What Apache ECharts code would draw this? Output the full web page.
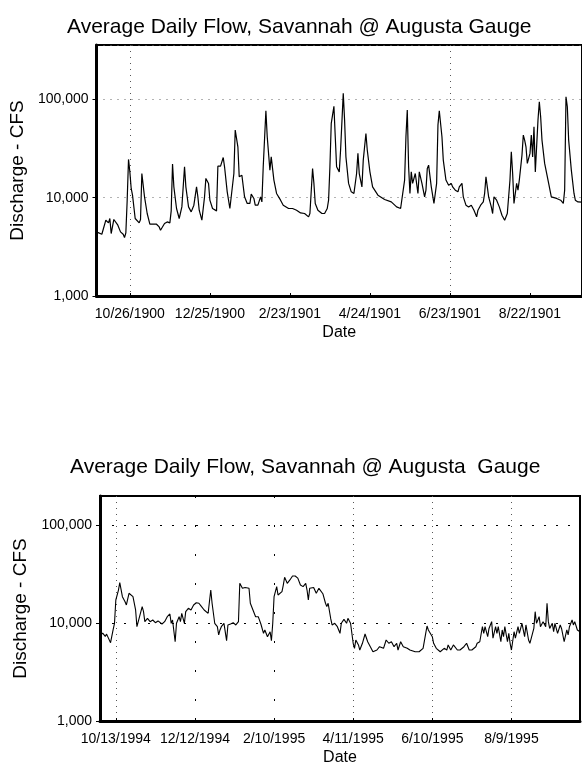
<!DOCTYPE html>
<html>
<head>
<meta charset="utf-8">
<script src="https://cdn.jsdelivr.net/npm/echarts@6/dist/echarts.min.js"></script>
<style>
html, body { margin: 0; padding: 0; background: #fff; }
#chart { width: 582px; height: 771px; }
</style>
</head>
<body>
<div id="chart"></div>
<script>
// water year 1900-1901 (top) and 1994-1995 (bottom), daily flow at Augusta
var title1901 = 'Average Daily Flow, Savannah @ Augusta Gauge';
var title1995 = 'Average Daily Flow, Savannah @ Augusta  Gauge';

// day index from Oct 1 and discharge (cfs) at the turning points of the trace
var flow1901Day = [0, 4, 7, 9, 10, 11, 13, 16, 18, 20, 21, 22, 23, 24, 25, 26, 27, 29, 32, 33, 34, 36, 38, 40, 45, 47, 48, 51, 53, 55,
    56, 57, 58, 60, 62, 64, 66, 67, 69, 71, 73, 75, 76, 77, 79, 81, 82, 84, 85, 87, 90, 91, 93, 95, 96, 98, 100, 101, 103, 104,
    106, 107, 109, 111, 113, 115, 116, 118, 119, 121, 123, 124, 125, 127, 128, 130, 131, 133, 135, 138, 140, 144, 147, 150, 153, 156, 159, 160, 162, 163,
    164, 166, 169, 171, 173, 174, 175, 176, 178, 179, 180, 182, 183, 185, 186, 187, 189, 191, 193, 195, 196, 197, 199, 200, 202, 203, 205, 207, 211, 216,
    221, 225, 228, 229, 231, 232, 233, 234, 235, 236, 237, 239, 241, 242, 244, 246, 247, 248, 249, 251, 253, 255, 256, 257, 259, 260, 262, 264, 266, 267,
    269, 271, 272, 274, 275, 277, 279, 281, 283, 285, 286, 288, 290, 291, 292, 293, 294, 296, 297, 298, 300, 302, 304, 306, 307, 308, 310, 311, 312, 313,
    315, 316, 317, 319, 320, 321, 322, 323, 325, 326, 327, 328, 329, 331, 332, 333, 334, 336, 339, 341, 345, 348, 350, 351, 352, 353, 354, 356, 358, 359,
    361, 364];
var flow1901Cfs = [4490, 4250, 5900, 5540, 6140, 4320, 6000, 5250, 4490, 4250, 3930, 4380, 9430, 24500, 18300, 12400, 10600, 6140, 5540, 6000, 17600, 10200, 6900, 5370, 5370, 5040, 4670, 5460, 5670, 5540,
    7340, 22000, 12880, 7760, 6140, 8060, 20600, 12880, 8060, 7170, 8390, 12880, 10200, 7460, 5900, 10200, 15700, 13960, 9430, 7760, 7340, 20900, 20900, 25600, 20600, 11460, 7760, 8060, 17600, 48700,
    32900, 16300, 16900, 10200, 8730, 8730, 10860, 9820, 8390, 8390, 10200, 9060, 20600, 76500, 41600, 19060, 26000, 15100, 11040, 9430, 8390, 7760, 7760, 7460, 7000, 6900, 6380, 6900, 19800, 13960,
    8730, 7460, 6900, 6900, 7760, 9430, 20600, 57000, 85000, 41600, 20600, 18300, 30500, 115000, 61500, 26000, 13960, 11460, 11040, 17600, 28200, 17600, 12880, 24100, 45000, 30500, 18300, 12880, 10600, 9590,
    9060, 8060, 7760, 7460, 15100, 41600, 77800, 20600, 11040, 18300, 13960, 17600, 11040, 18300, 13960, 10200, 11920, 19800, 21400, 12880, 8730, 13960, 54700, 76500, 41600, 24100, 15100, 13400, 13960, 12880,
    11920, 11460, 12880, 13960, 10200, 8390, 8060, 8390, 7460, 6380, 7460, 8390, 9060, 11040, 16300, 12880, 10200, 8060, 6900, 10200, 9430, 8060, 6630, 5900, 5670, 6900, 15100, 29300, 17600, 8730,
    13960, 11920, 15100, 27100, 43300, 38500, 32900, 22300, 28200, 43300, 26000, 52600, 18300, 61500, 94600, 66500, 38500, 22300, 13960, 10200, 9820, 9430, 8730, 11920, 106000, 84100, 38500, 19060, 11040, 9430,
    9060, 9000];

var flow1995Day = [0, 2, 4, 5, 8, 10, 11, 12, 14, 15, 17, 19, 20, 22, 23, 25, 27, 28, 30, 32, 33, 34, 36, 38, 40, 42, 44, 47, 49, 51,
    53, 54, 55, 57, 58, 60, 61, 62, 64, 65, 67, 69, 71, 73, 75, 77, 79, 80, 82, 84, 85, 87, 89, 90, 91, 92, 94, 96, 97, 99,
    101, 103, 105, 106, 108, 110, 113, 114, 116, 118, 120, 122, 124, 125, 127, 129, 130, 131, 132, 134, 135, 136, 138, 139, 140, 142, 144, 146, 148, 150,
    152, 154, 156, 157, 158, 159, 162, 164, 166, 167, 169, 171, 172, 173, 175, 176, 178, 180, 182, 183, 185, 187, 188, 190, 192, 193, 194, 196, 197, 199,
    201, 203, 205, 207, 210, 212, 215, 217, 219, 221, 223, 225, 226, 228, 230, 233, 235, 239, 242, 245, 247, 248, 249, 250, 252, 253, 255, 258, 261, 263,
    264, 266, 268, 271, 273, 276, 278, 280, 282, 285, 286, 288, 290, 291, 292, 294, 295, 297, 298, 300, 301, 302, 304, 305, 306, 307, 309, 310, 311, 312,
    314, 315, 317, 318, 320, 322, 323, 325, 326, 328, 329, 330, 331, 333, 334, 336, 338, 339, 340, 341, 343, 344, 345, 347, 349, 350, 352, 354, 355, 356,
    358, 359, 360, 362, 364];
var flow1995Cfs = [7400, 7900, 7300, 7700, 6300, 8600, 9930, 17170, 21700, 25800, 18560, 16500, 15270, 20100, 19300, 18560, 13580, 9170, 11600, 14680, 13050, 10320, 11170, 10320, 10730, 10070, 10500, 9770, 10320, 11600,
    12360, 9930, 10730, 6440, 9930, 11600, 10320, 12560, 9930, 13050, 14130, 13580, 15270, 16110, 15900, 14680, 13580, 13050, 12560, 21700, 15900, 9930, 9170, 7550, 8490, 9170, 9930, 6600, 9550, 9770,
    10070, 9550, 10320, 25400, 22600, 23000, 22600, 15900, 13580, 11600, 11600, 9770, 7850, 8490, 7250, 8150, 6600, 9930, 18560, 23500, 19300, 20100, 20900, 24400, 29300, 25400, 27500, 30200, 30200, 28700,
    24400, 23500, 25400, 21700, 17170, 22600, 23000, 20100, 22600, 23000, 19900, 15900, 14680, 15900, 11000, 9550, 9930, 9170, 7850, 9930, 10900, 9930, 11170, 9930, 6210, 5520, 6710, 5970, 5300, 6210,
    7720, 6440, 5730, 5090, 5300, 5730, 5520, 6710, 6210, 6440, 5730, 6210, 5300, 6440, 5730, 5520, 5300, 5090, 5090, 5520, 7850, 9320, 8490, 8150, 7250, 6210, 5520, 5090, 5520, 5300,
    5970, 5300, 5970, 5300, 5300, 5730, 6210, 5300, 5300, 5730, 6210, 6440, 9170, 7850, 9170, 7250, 8800, 10320, 7000, 9170, 7850, 9170, 6440, 8490, 7250, 9170, 6440, 7850, 6210, 5300,
    8150, 7000, 9170, 7850, 9930, 7250, 9550, 6710, 6210, 7850, 8800, 13050, 9930, 11600, 9170, 10320, 9170, 15900, 10320, 8800, 9930, 8150, 9930, 7850, 9550, 8800, 6440, 8490, 7550, 9170,
    10730, 9550, 10320, 8490, 8150];

// daily date categories, Oct 1 to Sep 30
function dailyDates(year, n) {
    var out = [];
    for (var i = 0; i < n; i++) {
        var d = new Date(year, 9, 1 + i);
        out.push((d.getMonth() + 1) + '/' + d.getDate() + '/' + d.getFullYear());
    }
    return out;
}
var days1901 = dailyDates(1900, 365);
var days1995 = dailyDates(1994, 365);

function pairs(days, vals) {
    return days.map(function (d, i) { return [d, vals[i]]; });
}
function fmtCfs(v) {
    return String(Math.round(v)).replace(/\B(?=(\d{3})+(?!\d))/g, ',');
}

var FONT = '"Liberation Sans", Arial, sans-serif';
var chart = echarts.init(document.getElementById('chart'));

function titleOpt(text, left, top) {
    return {
        text: text, left: left, top: top,
        textStyle: { fontFamily: FONT, fontSize: 21, fontWeight: 'normal', color: '#000' }
    };
}
function xAxisOpt(grid, days, labelAt, gridAt) {
    return {
        type: 'category', gridIndex: grid, data: days, boundaryGap: false,
        name: 'Date', nameLocation: 'middle', nameGap: 29,
        nameTextStyle: { fontFamily: FONT, fontSize: 16, color: '#000' },
        axisLine: { show: true, lineStyle: { color: '#000', width: 3 } },
        axisTick: { show: true, inside: true, length: 3, interval: labelAt, lineStyle: { color: '#000' } },
        axisLabel: { interval: labelAt, margin: 11, fontFamily: FONT, fontSize: 14, color: '#000' },
        splitLine: { show: true, interval: gridAt, lineStyle: { color: '#555', width: 1, type: [1, 5] } }
    };
}
function yAxisOpt(grid, max, gap, gridColor, gridDash) {
    return {
        type: 'log', gridIndex: grid, logBase: 10, min: 1000, max: max,
        name: 'Discharge - CFS', nameLocation: 'middle', nameGap: gap,
        nameTextStyle: { fontFamily: FONT, fontSize: 19, color: '#000' },
        axisLine: { show: true, lineStyle: { color: '#000', width: 3 } },
        axisTick: { show: true, length: 4, lineStyle: { color: '#000' } },
        axisLabel: { fontFamily: FONT, fontSize: 14, color: '#000', margin: 8, formatter: fmtCfs, showMaxLabel: false },
        splitLine: { show: true, lineStyle: { color: gridColor, width: 1, type: gridDash } }
    };
}

chart.setOption({
    animation: false,
    backgroundColor: '#fff',
    title: [
        titleOpt(title1901, 62, 12),
        titleOpt(title1995, 65, 452)
    ],
    grid: [
        { left: 96, top: 45, width: 488, height: 251, show: true, borderColor: '#000', borderWidth: 2, containLabel: false },
        { left: 100, top: 496, width: 480, height: 225, show: true, borderColor: '#000', borderWidth: 2, containLabel: false }
    ],
    xAxis: [
        xAxisOpt(0, days1901, function (i) { return i % 60 === 25; }, function (i) { return i === 25 || i === 265; }),
        xAxisOpt(1, days1995, function (i) { return i % 60 === 12; }, function (i) { return i === 12 || i === 192 || i === 252 || i === 312; }),
        {
            // sparse dotted columns at 12/12/1994 and 2/10/1995
            type: 'category', gridIndex: 1, data: days1995, boundaryGap: false, position: 'top',
            axisLine: { show: false }, axisTick: { show: false }, axisLabel: { show: false },
            splitLine: { show: true, interval: function (i) { return i === 72 || i === 132; },
                lineStyle: { color: '#000', width: 1, type: [2, 27] } }
        }
    ],
    yAxis: [
        yAxisOpt(0, 357000, 67, '#666', [1, 6]),
        yAxisOpt(1, 197700, 61, '#000', [2, 10])
    ],
    series: [
        {
            type: 'line', xAxisIndex: 0, yAxisIndex: 0, data: pairs(flow1901Day, flow1901Cfs),
            showSymbol: false, symbol: 'none', silent: true,
            lineStyle: { color: '#000', width: 1.2 }
        },
        {
            type: 'line', xAxisIndex: 1, yAxisIndex: 1, data: pairs(flow1995Day, flow1995Cfs),
            showSymbol: false, symbol: 'none', silent: true,
            lineStyle: { color: '#000', width: 1.1 }
        }
    ]
});
</script>
</body>
</html>
